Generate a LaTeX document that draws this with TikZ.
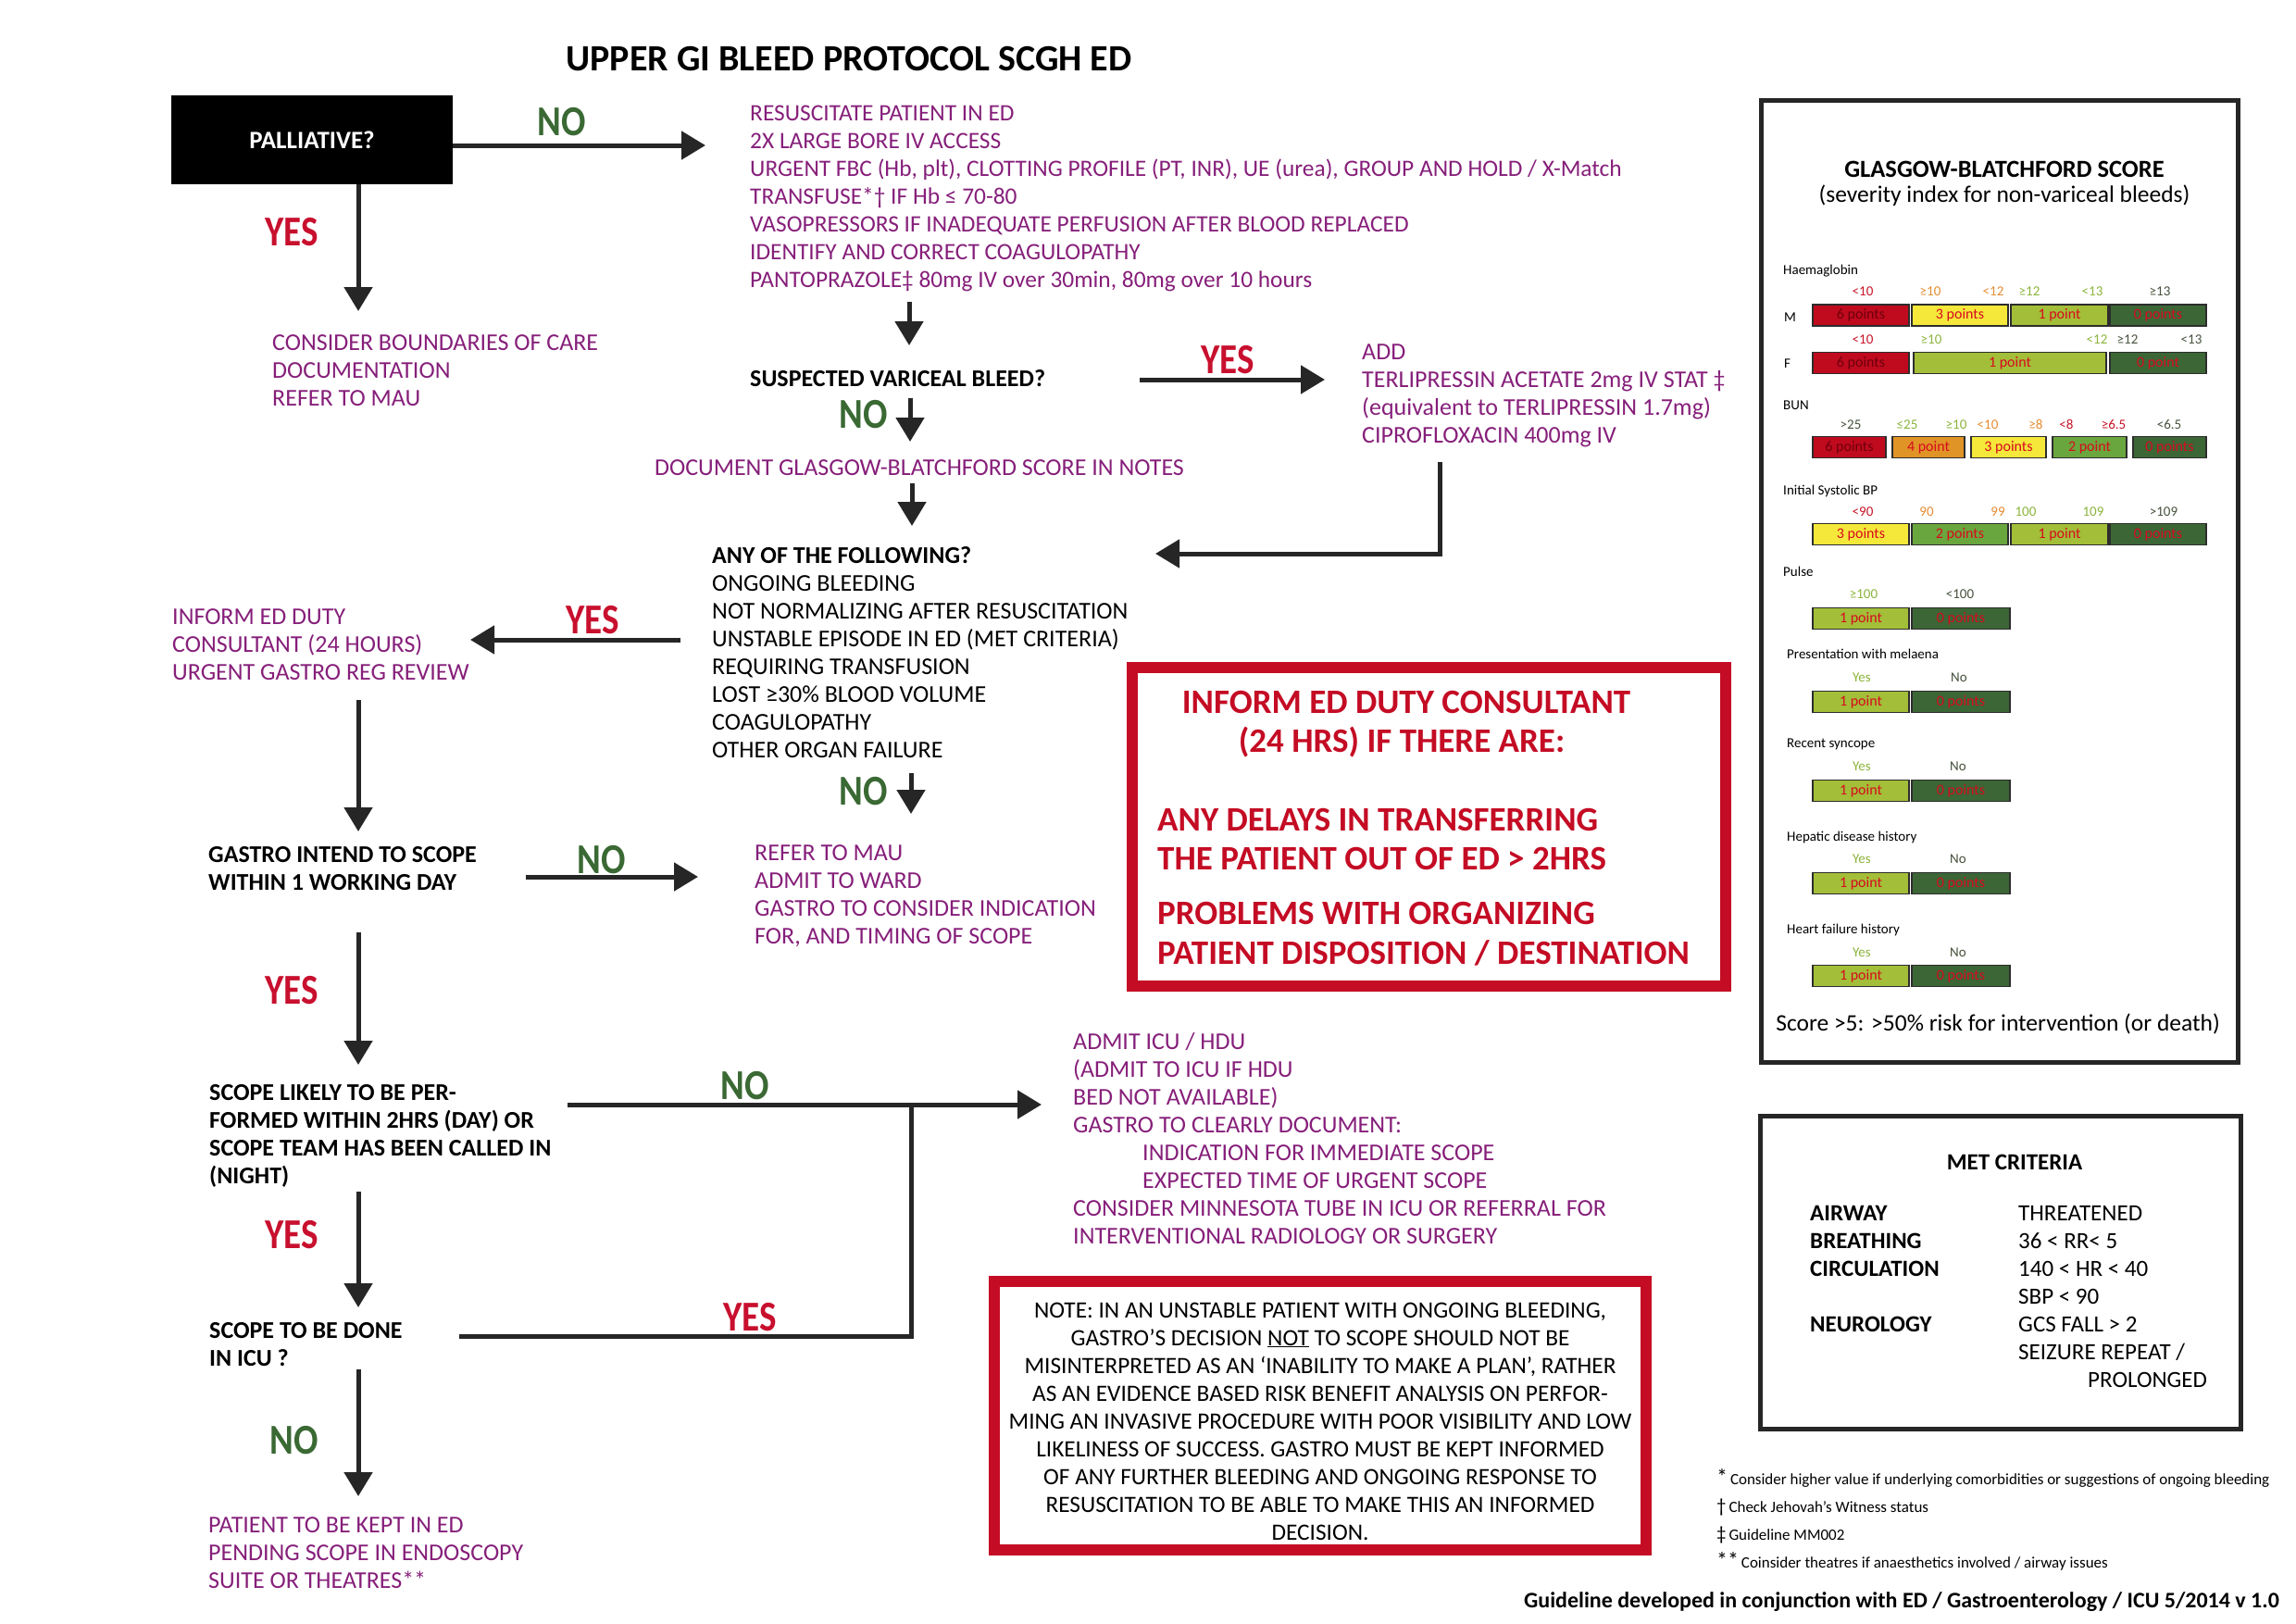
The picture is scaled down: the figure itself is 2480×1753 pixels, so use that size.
\documentclass[tikz,border=0pt]{standalone}
\usepackage{fontspec}
\setmainfont{Carlito}
\newfontfamily\ynf{Carlito}[FakeStretch=0.85]
\usetikzlibrary{arrows.meta}
\definecolor{pur}{RGB}{134,31,122}
\definecolor{grn}{RGB}{58,105,52}
\definecolor{yred}{RGB}{200,16,46}
\definecolor{arr}{RGB}{38,38,38}
\definecolor{boxred}{RGB}{196,12,36}
\definecolor{gred}{RGB}{192,10,30}
\definecolor{gyel}{RGB}{245,232,58}
\definecolor{glime}{RGB}{163,190,56}
\definecolor{gmid}{RGB}{106,166,62}
\definecolor{gdark}{RGB}{60,102,54}
\definecolor{gorg}{RGB}{224,148,38}
\definecolor{ptred}{RGB}{215,10,30}
\definecolor{dred}{RGB}{110,0,12}
\definecolor{vred}{RGB}{200,20,40}
\definecolor{vorg}{RGB}{228,140,50}
\definecolor{vlime}{RGB}{140,180,60}
\definecolor{vdk}{RGB}{70,82,60}
\definecolor{bdr}{RGB}{45,45,45}
\tikzset{
  arw/.style={draw=arr, line width=5pt, -{Triangle[length=26pt,width=30pt]}},
  lnk/.style={draw=arr, line width=5pt},
  ptxt/.style={text=pur, font=\fontsize{26}{30}\selectfont, align=left, anchor=base west, inner sep=0pt},
  btxt/.style={text=black, font=\bfseries\fontsize{26}{30}\selectfont, align=left, anchor=base west, inner sep=0pt},
  ktxt/.style={text=black, font=\fontsize{26}{30}\selectfont, align=left, anchor=base west, inner sep=0pt},
  yeslbl/.style={text=yred, font=\ynf\bfseries\fontsize{46}{46}\selectfont, anchor=base, inner sep=0pt},
  nolbl/.style={text=grn, font=\ynf\bfseries\fontsize{46}{46}\selectfont, anchor=base, inner sep=0pt},
  rtxt/.style={text=boxred, font=\bfseries\fontsize{37}{37}\selectfont, inner sep=0pt},
  gbarst/.style={draw=bdr, line width=1.8pt, inner sep=0pt, text=ptred, font=\fontsize{16}{16}\selectfont, text height=11pt, text depth=3pt},
  gval/.style={font=\fontsize{15}{15}\selectfont, anchor=base, inner sep=0pt},
  glab/.style={font=\fontsize{15}{15}\selectfont, anchor=base west, inner sep=0pt},
  mlab/.style={font=\bfseries\fontsize{25}{30}\selectfont, anchor=base west, inner sep=0pt, align=left},
  mval/.style={font=\fontsize{25}{30}\selectfont, anchor=base west, inner sep=0pt, align=left},
  fnote/.style={font=\fontsize{17}{17}\selectfont, anchor=base west, inner sep=0pt},
}
\newcommand{\gbar}[7]{\node[gbarst, fill=#6, minimum width=#4pt, minimum height=#5pt] (#1) at (#2,#3) {#7};}
\begin{document}
\begin{tikzpicture}[x=1pt,y=-1pt]
\useasboundingbox[fill=white] (0,0) rectangle (2480,1753);

% ---------- title ----------
\node[anchor=base, inner sep=0pt, font=\bfseries\fontsize{40}{40}\selectfont] (title) at (917,76) {UPPER GI BLEED PROTOCOL SCGH ED};

% ---------- palliative ----------
\node[fill=black, minimum width=304pt, minimum height=96pt, inner sep=0pt, text=white, font=\bfseries\fontsize{27}{27}\selectfont] (pal) at (337,151) {PALLIATIVE?};
\coordinate (c1) at (489,157); \coordinate (c2) at (762,157);
\draw[arw] (c1) -- (c2);
\node[nolbl] (no1) at (607,146) {NO};
\coordinate (c3) at (387,199); \coordinate (c4) at (387,336);
\draw[arw] (c3) -- (c4);
\node[yeslbl] (yes1) at (315,265) {YES};
% multi-line nodes: anchor at baseline of LAST line
\node[ptxt] (care) at (294,438) {CONSIDER BOUNDARIES OF CARE\\DOCUMENTATION\\REFER TO MAU};

\node[ptxt, font=\fontsize{25.4}{30}\selectfont] (resus) at (810,310) {RESUSCITATE PATIENT IN ED\\2X LARGE BORE IV ACCESS\\URGENT FBC (Hb, plt), CLOTTING PROFILE (PT, INR), UE (urea), GROUP AND HOLD / X-Match\\TRANSFUSE*† IF Hb ≤ 70-80\\VASOPRESSORS IF INADEQUATE PERFUSION AFTER BLOOD REPLACED\\IDENTIFY AND CORRECT COAGULOPATHY\\PANTOPRAZOLE‡ 80mg IV over 30min, 80mg over 10 hours};
\coordinate (c5) at (982,326); \coordinate (c6) at (982,373);
\draw[arw] (c5) -- (c6);

% ---------- variceal ----------
\node[btxt] (varq) at (810,417) {SUSPECTED VARICEAL BLEED?};
\coordinate (c7) at (1231,410); \coordinate (c8) at (1431,410);
\draw[arw] (c7) -- (c8);
\node[yeslbl] (yes2) at (1326,403) {YES};
\node[ptxt] (add) at (1471,478) {ADD\\TERLIPRESSIN ACETATE 2mg IV STAT ‡\\(equivalent to TERLIPRESSIN 1.7mg)\\CIPROFLOXACIN 400mg IV};
\node[nolbl] (no2) at (933,462) {NO};
\coordinate (c9) at (983,430); \coordinate (c10) at (983,477);
\draw[arw] (c9) -- (c10);
\node[ptxt, anchor=base] (gbsdoc) at (993,513) {DOCUMENT GLASGOW-BLATCHFORD SCORE IN NOTES};
\coordinate (c11) at (985,522); \coordinate (c12) at (985,568);
\draw[arw] (c11) -- (c12);
\coordinate (c13) at (1555,499); \coordinate (c14) at (1555,598); \coordinate (c15) at (1248,598);
\draw[arw] (c13) -- (c14) -- (c15);

% ---------- any of the following ----------
\node[ktxt] (any) at (769,818) {\textbf{ANY OF THE FOLLOWING?}\\ONGOING BLEEDING\\NOT NORMALIZING AFTER RESUSCITATION\\UNSTABLE EPISODE IN ED (MET CRITERIA)\\REQUIRING TRANSFUSION\\LOST ≥30\% BLOOD VOLUME\\COAGULOPATHY\\OTHER ORGAN FAILURE};
\coordinate (c16) at (735,691); \coordinate (c17) at (508,691);
\draw[arw] (c16) -- (c17);
\node[yeslbl] (yes3) at (640,684) {YES};
\node[ptxt] (inform) at (186,734) {INFORM ED DUTY\\CONSULTANT (24 HOURS)\\URGENT GASTRO REG REVIEW};
\coordinate (c18) at (387,756); \coordinate (c19) at (387,898);
\draw[arw] (c18) -- (c19);
\node[nolbl] (no3) at (933,869) {NO};
\coordinate (c20) at (984,835); \coordinate (c21) at (984,879);
\draw[arw] (c20) -- (c21);

% ---------- gastro intend ----------
\node[btxt] (intend) at (225,961) {GASTRO INTEND TO SCOPE\\WITHIN 1 WORKING DAY};
\coordinate (c22) at (568,947); \coordinate (c23) at (754,947);
\draw[arw] (c22) -- (c23);
\node[nolbl] (no4) at (650,943) {NO};
\node[ptxt] (mau) at (815,1019) {REFER TO MAU\\ADMIT TO WARD\\GASTRO TO CONSIDER INDICATION\\FOR, AND TIMING OF SCOPE};

% ---------- red box 1 ----------
\node[draw=boxred, line width=12pt, minimum width=641pt, minimum height=344pt, inner sep=0pt] (redbox) at (1543.5,893) {};
\node[rtxt, anchor=base] (r1) at (1519,770) {INFORM ED DUTY CONSULTANT};
\node[rtxt, anchor=base] (r2) at (1514,812) {(24 HRS) IF THERE ARE:};
\node[rtxt, anchor=base west] (r3) at (1250,897) {ANY DELAYS IN TRANSFERRING};
\node[rtxt, anchor=base west] (r4) at (1250,939) {THE PATIENT OUT OF ED > 2HRS};
\node[rtxt, anchor=base west] (r5) at (1250,998) {PROBLEMS WITH ORGANIZING};
\node[rtxt, anchor=base west] (r6) at (1250,1041) {PATIENT DISPOSITION / DESTINATION};

% ---------- scope likely ----------
\node[yeslbl] (yes4) at (315,1084) {YES};
\coordinate (c24) at (387,1007); \coordinate (c25) at (387,1150);
\draw[arw] (c24) -- (c25);
\node[btxt] (likely) at (226,1278) {SCOPE LIKELY TO BE PER-\\FORMED WITHIN 2HRS (DAY) OR\\SCOPE TEAM HAS BEEN CALLED IN\\(NIGHT)};
\coordinate (c26) at (613,1193); \coordinate (c27) at (1125,1193);
\draw[arw] (c26) -- (c27);
\node[nolbl] (no5) at (805,1187) {NO};
\coordinate (c28) at (984,1193); \coordinate (c29) at (984,1443); \coordinate (c30) at (496,1443);
\draw[lnk] (c30) -- (c29) -- (c28);
\node[yeslbl] (yes5) at (810,1437) {YES};
\node[yeslbl] (yes6) at (315,1348) {YES};
\coordinate (c31) at (387,1287); \coordinate (c32) at (387,1412);
\draw[arw] (c31) -- (c32);
\node[btxt] (icu) at (226,1475) {SCOPE TO BE DONE\\IN ICU ?};
\node[nolbl] (no6) at (318,1570) {NO};
\coordinate (c33) at (387,1479); \coordinate (c34) at (387,1616);
\draw[arw] (c33) -- (c34);
\node[ptxt] (kept) at (225,1715) {PATIENT TO BE KEPT IN ED\\PENDING SCOPE IN ENDOSCOPY\\SUITE OR THEATRES**};

\node[ptxt] (admit) at (1159,1343) {ADMIT ICU / HDU\\(ADMIT TO ICU IF HDU\\BED NOT AVAILABLE)\\GASTRO TO CLEARLY DOCUMENT:\\\hspace*{75pt}INDICATION FOR IMMEDIATE SCOPE\\\hspace*{75pt}EXPECTED TIME OF URGENT SCOPE\\CONSIDER MINNESOTA TUBE IN ICU OR REFERRAL FOR\\INTERVENTIONAL RADIOLOGY OR SURGERY};

% ---------- note box ----------
\node[draw=boxred, line width=12pt, minimum width=704pt, minimum height=290pt, inner sep=0pt] (notebox) at (1426,1529) {};
\node[ktxt, font=\fontsize{25.3}{30}\selectfont, align=center, anchor=base] (note) at (1426,1663) {NOTE: IN AN UNSTABLE PATIENT WITH ONGOING BLEEDING,\\GASTRO’S DECISION \underline{NOT} TO SCOPE SHOULD NOT BE\\MISINTERPRETED AS AN ‘INABILITY TO MAKE A PLAN’, RATHER\\AS AN EVIDENCE BASED RISK BENEFIT ANALYSIS ON PERFOR-\\MING AN INVASIVE PROCEDURE WITH POOR VISIBILITY AND LOW\\LIKELINESS OF SUCCESS. GASTRO MUST BE KEPT INFORMED\\OF ANY FURTHER BLEEDING AND ONGOING RESPONSE TO\\RESUSCITATION TO BE ABLE TO MAKE THIS AN INFORMED\\DECISION.};

% ---------- GBS box ----------
\node[draw=arr, line width=5pt, minimum width=515pt, minimum height=1039pt, inner sep=0pt] (gbsbox) at (2159.5,627.5) {};
\node[anchor=base, inner sep=0pt, font=\bfseries\fontsize{26.5}{26}\selectfont] (gbst) at (2165,191) {GLASGOW-BLATCHFORD SCORE};
\node[anchor=base, inner sep=0pt, font=\fontsize{25.5}{25}\selectfont] (gbss) at (2165,218) {(severity index for non-variceal bleeds)};

\node[glab] (hb) at (1926,296) {Haemaglobin};
\node[gval, text=vred] (hm1) at (2012,319) {<10};
\node[gval, text=vorg] (hm2) at (2085,319) {≥10};
\node[gval, text=vorg] (hm3) at (2153,319) {<12};
\node[gval, text=vlime] (hm4) at (2192,319) {≥12};
\node[gval, text=vlime] (hm5) at (2260,319) {<13};
\node[gval, text=vdk] (hm6) at (2333,319) {≥13};
\node[glab] (mlab) at (1927,347) {M};
\gbar{m1}{2010}{340.5}{104}{23}{gred}{\color{dred}6 points}
\gbar{m2}{2117}{340.5}{104}{23}{gyel}{3 points}
\gbar{m3}{2224.5}{340.5}{105}{23}{glime}{1 point}
\gbar{m4}{2331}{340.5}{104}{23}{gdark}{0 points}
\node[gval, text=vred] (hf1) at (2012,371) {<10};
\node[gval, text=vlime] (hf2) at (2086,371) {≥10};
\node[gval, text=vlime] (hf3) at (2265,371) {<12};
\node[gval, text=vdk] (hf4) at (2298,371) {≥12};
\node[gval, text=vdk] (hf5) at (2367,371) {<13};
\node[glab] (flab) at (1927,397) {F};
\gbar{f1}{2010}{392}{104}{23}{gred}{\color{dred}6 points}
\gbar{f2}{2171}{392}{208}{23}{glime}{1 point}
\gbar{f3}{2331}{392}{104}{23}{gdark}{0 point}

\node[glab] (bun) at (1926,442) {BUN};
\node[gval, text=vdk] (bv1) at (1999,463) {>25};
\node[gval, text=vlime] (bv2) at (2060,463) {≤25};
\node[gval, text=vlime] (bv3) at (2113,463) {≥10};
\node[gval, text=vorg] (bv4) at (2147,463) {<10};
\node[gval, text=vorg] (bv5) at (2199,463) {≥8};
\node[gval, text=vred] (bv6) at (2232,463) {<8};
\node[gval, text=vred] (bv7) at (2283,463) {≥6.5};
\node[gval, text=vdk] (bv8) at (2343,463) {<6.5};
\gbar{b1}{1997.5}{483}{79}{23}{gred}{\color{dred}6 points}
\gbar{b2}{2083}{483}{78}{23}{gorg}{4 point}
\gbar{b3}{2169.5}{483}{81}{23}{gyel}{3 points}
\gbar{b4}{2257}{483}{80}{23}{gmid}{2 point}
\gbar{b5}{2343.5}{483}{79}{23}{gdark}{0 points}

\node[glab] (sbp) at (1926,534) {Initial Systolic BP};
\node[gval, text=vred] (sv1) at (2012,557) {<90};
\node[gval, text=vorg] (sv2) at (2081,557) {90};
\node[gval, text=vorg] (sv3) at (2158,557) {99};
\node[gval, text=vlime] (sv4) at (2188,557) {100};
\node[gval, text=vlime] (sv5) at (2261,557) {109};
\node[gval, text=vdk] (sv6) at (2337,557) {>109};
\gbar{s1}{2010}{577}{104}{23}{gyel}{3 points}
\gbar{s2}{2117}{577}{104}{23}{gmid}{2 points}
\gbar{s3}{2224.5}{577}{105}{23}{glime}{1 point}
\gbar{s4}{2331}{577}{104}{23}{gdark}{0 points}

\node[glab] (pulse) at (1926,622) {Pulse};
\node[gval, text=vlime] (pv1) at (2013,646) {≥100};
\node[gval, text=vdk] (pv2) at (2117,646) {<100};
\gbar{p1}{2010}{668}{104}{23}{glime}{1 point}
\gbar{p2}{2118}{668}{106}{23}{gdark}{0 points}

\node[glab] (mel) at (1930,711) {Presentation with melaena};
\node[gval, text=vlime] (mv1) at (2011,736) {Yes};
\node[gval, text=vdk] (mv2) at (2116,736) {No};
\gbar{me1}{2010}{758}{104}{23}{glime}{1 point}
\gbar{me2}{2118}{758}{106}{23}{gdark}{0 points}

\node[glab] (syn) at (1930,807) {Recent syncope};
\node[gval, text=vlime] (yv1) at (2011,832) {Yes};
\node[gval, text=vdk] (yv2) at (2115,832) {No};
\gbar{sy1}{2010}{854}{104}{23}{glime}{1 point}
\gbar{sy2}{2118}{854}{106}{23}{gdark}{0 points}

\node[glab] (hep) at (1930,908) {Hepatic disease history};
\node[gval, text=vlime] (ev1) at (2011,932) {Yes};
\node[gval, text=vdk] (ev2) at (2115,932) {No};
\gbar{he1}{2010}{954}{104}{23}{glime}{1 point}
\gbar{he2}{2118}{954}{106}{23}{gdark}{0 points}

\node[glab] (hfh) at (1930,1008) {Heart failure history};
\node[gval, text=vlime] (fv1) at (2011,1033) {Yes};
\node[gval, text=vdk] (fv2) at (2115,1033) {No};
\gbar{hh1}{2010}{1054}{104}{23}{glime}{1 point}
\gbar{hh2}{2118}{1054}{106}{23}{gdark}{0 points}

\node[anchor=base, inner sep=0pt, font=\fontsize{25.5}{25}\selectfont] (score) at (2158,1113) {Score >5: >50\% risk for intervention (or death)};

% ---------- MET box ----------
\node[draw=arr, line width=5pt, minimum width=519pt, minimum height=338pt, inner sep=0pt] (metbox) at (2160.5,1374) {};
\node[anchor=base, inner sep=0pt, font=\bfseries\fontsize{25}{25}\selectfont] (mett) at (2176,1263) {MET CRITERIA};
\node[mlab] (metl) at (1955,1378) {AIRWAY\\BREATHING\\CIRCULATION};
\node[mlab] (metn) at (1955,1438) {NEUROLOGY};
\node[mval] (metv) at (2180,1498) {THREATENED\\36 < RR< 5\\140 < HR < 40\\SBP < 90\\GCS FALL > 2\\SEIZURE REPEAT /\\\hspace*{75pt}PROLONGED};

% ---------- footnotes ----------
\node[fnote] (fn1) at (1854,1603) {{\fontsize{24}{24}\selectfont *}\,Consider higher value if underlying comorbidities or suggestions of ongoing bleeding};
\node[fnote] (fn2) at (1854,1633) {{\fontsize{21}{21}\selectfont †}\,Check Jehovah’s Witness status};
\node[fnote] (fn3) at (1854,1663) {{\fontsize{21}{21}\selectfont ‡}\,Guideline MM002};
\node[fnote] (fn4) at (1854,1693) {{\fontsize{24}{24}\selectfont **}\,Coinsider theatres if anaesthetics involved / airway issues};
\node[anchor=base east, inner sep=0pt, font=\bfseries\fontsize{24}{24}\selectfont] (foot) at (2462,1736) {Guideline developed in conjunction with ED / Gastroenterology / ICU 5/2014 v 1.0};
\end{tikzpicture}
\end{document}
